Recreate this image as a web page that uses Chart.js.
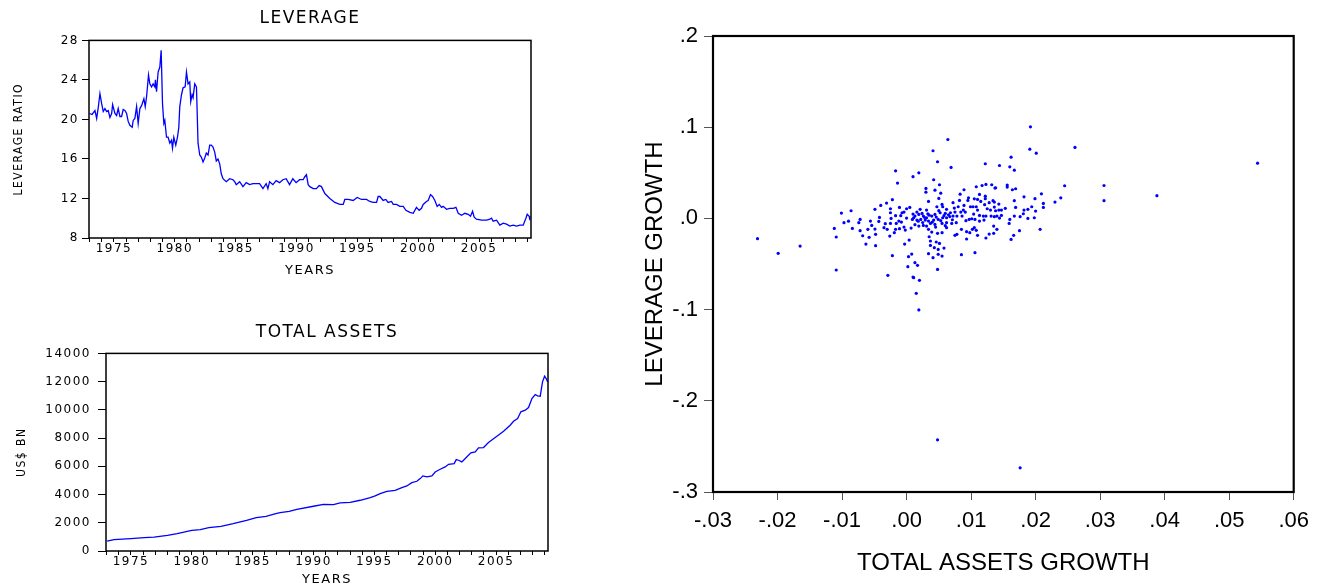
<!DOCTYPE html>
<html>
<head>
<meta charset="utf-8">
<script src="https://cdn.jsdelivr.net/npm/chart.js@4.4.1/dist/chart.umd.min.js"></script>
<style>
  html, body { margin: 0; padding: 0; background: #fff; overflow: hidden; }
  canvas { position: absolute; }
  #levChart { left: 0; top: 0; }
  #assetChart { left: 0; top: 292px; }
  #scatChart { left: 600px; top: 0; }
</style>
</head>
<body>
<canvas id="levChart" width="600" height="292"></canvas>
<canvas id="assetChart" width="600" height="300"></canvas>
<canvas id="scatChart" width="717" height="584"></canvas>
<script>
// leverage ratio (decimal years)
const levYears = [
  1973.00, 1973.20, 1973.44, 1973.58, 1973.72, 1973.85, 1973.99, 1974.12, 1974.26, 1974.40,
  1974.53, 1974.67, 1974.81, 1974.89, 1975.08, 1975.22, 1975.35, 1975.49, 1975.63, 1975.76,
  1975.90, 1976.04, 1976.17, 1976.31, 1976.50, 1976.58, 1976.72, 1976.86, 1976.99, 1977.13,
  1977.27, 1977.46, 1977.57, 1977.68, 1977.84, 1977.95, 1978.09, 1978.22, 1978.36, 1978.41,
  1978.50, 1978.63, 1978.77, 1978.88, 1978.99, 1979.10, 1979.18, 1979.32, 1979.45, 1979.59,
  1979.73, 1979.81, 1979.92, 1980.08, 1980.22, 1980.33, 1980.41, 1980.55, 1980.68, 1980.85,
  1980.96, 1981.09, 1981.23, 1981.31, 1981.42, 1981.50, 1981.64, 1981.78, 1981.91, 1982.05,
  1982.18, 1982.32, 1982.46, 1982.59, 1982.73, 1982.87, 1983.00, 1983.14, 1983.28, 1983.41,
  1983.55, 1983.69, 1983.82, 1983.96, 1984.23, 1984.51, 1984.78, 1984.92, 1985.05, 1985.33,
  1985.60, 1985.87, 1986.15, 1986.42, 1986.69, 1986.97, 1987.24, 1987.51, 1987.65, 1987.79,
  1988.06, 1988.33, 1988.61, 1988.88, 1989.15, 1989.43, 1989.70, 1989.97, 1990.25, 1990.55,
  1990.68, 1990.82, 1990.96, 1991.10, 1991.37, 1991.64, 1991.86, 1992.05, 1992.33, 1992.74,
  1993.15, 1993.56, 1993.84, 1993.97, 1994.25, 1994.66, 1994.99, 1995.34, 1995.75, 1996.03,
  1996.30, 1996.58, 1996.71, 1996.85, 1997.12, 1997.34, 1997.53, 1997.81, 1997.95, 1998.22,
  1998.49, 1998.77, 1998.99, 1999.32, 1999.59, 1999.86, 2000.08, 2000.27, 2000.41, 2000.68,
  2000.82, 2001.01, 2001.18, 2001.37, 2001.56, 2001.73, 2001.92, 2002.05, 2002.33, 2002.60,
  2002.88, 2003.10, 2003.29, 2003.56, 2003.84, 2004.11, 2004.30, 2004.47, 2004.60, 2004.79,
  2005.21, 2005.62, 2005.89, 2006.03, 2006.16, 2006.44, 2006.71, 2006.99, 2007.26, 2007.53,
  2007.81, 2008.08, 2008.36, 2008.63, 2008.85, 2008.96, 2009.12, 2009.18
];
const levRatio = [
  20.6, 20.5, 20.9, 20.1, 21.3, 22.6, 21.6, 20.8, 21.1, 20.8,
  20.9, 20.2, 20.6, 21.5, 20.6, 20.4, 21.1, 20.3, 20.3, 21.0,
  20.9, 20.6, 19.8, 19.4, 19.2, 19.9, 20.1, 21.3, 19.6, 21.1,
  21.4, 22.1, 21.3, 22.3, 24.5, 23.6, 23.3, 23.6, 23.3, 24.0,
  22.8, 24.8, 25.3, 27.0, 21.6, 19.6, 19.9, 18.2, 18.2, 17.6,
  17.9, 17.1, 18.2, 17.4, 18.2, 19.2, 21.3, 22.5, 23.2, 23.3,
  24.8, 23.6, 23.8, 21.8, 22.5, 22.2, 23.6, 23.3, 17.6, 16.4,
  16.2, 15.7, 16.1, 16.6, 16.4, 17.4, 17.4, 17.2, 16.7, 15.8,
  16.0, 15.5, 14.5, 14.0, 13.7, 14.0, 13.9, 13.7, 13.4, 13.7,
  13.2, 13.6, 13.4, 13.5, 13.5, 13.5, 13.0, 13.5, 13.0, 13.7,
  13.4, 13.8, 13.6, 13.9, 14.0, 13.4, 14.0, 13.6, 13.9, 13.9,
  14.2, 14.4, 13.4, 13.2, 13.0, 13.0, 13.3, 13.2, 12.5, 12.0,
  11.6, 11.4, 11.4, 11.9, 11.9, 11.8, 12.1, 11.9, 11.9, 11.7,
  11.6, 11.6, 12.2, 12.2, 11.8, 11.9, 11.6, 11.7, 11.4, 11.4,
  11.2, 11.2, 10.8, 10.6, 10.5, 11.1, 10.8, 11.0, 11.4, 11.7,
  11.8, 12.4, 12.2, 11.8, 11.2, 11.4, 11.1, 11.2, 10.9, 11.0,
  11.0, 11.1, 10.5, 10.3, 10.5, 10.4, 10.2, 10.7, 10.1, 9.9,
  9.8, 9.8, 9.9, 10.0, 9.7, 9.8, 9.3, 9.5, 9.4, 9.2,
  9.3, 9.2, 9.3, 9.3, 10.0, 10.4, 10.2, 9.8
];

// total assets, US$ bn
const assetYears = [
  1973.04, 1973.60, 1975.00, 1976.10, 1976.90, 1978.00, 1978.80, 1980.00, 1980.70, 1981.40,
  1982.40, 1983.40, 1984.50, 1985.30, 1986.10, 1986.90, 1987.26, 1988.00, 1988.63, 1990.00,
  1990.82, 1991.64, 1992.19, 1993.01, 1993.84, 1994.66, 1995.07, 1995.48, 1996.03, 1996.71,
  1997.26, 1997.67, 1998.08, 1998.49, 1998.77, 1998.99, 1999.32, 1999.73, 2000.00, 2000.41,
  2000.82, 2001.10, 2001.56, 2001.73, 2001.92, 2002.19, 2002.47, 2002.93, 2003.29, 2003.56,
  2003.97, 2004.38, 2005.07, 2005.62, 2006.16, 2006.44, 2006.77, 2007.04, 2007.40, 2007.67,
  2007.95, 2008.22, 2008.41, 2008.63, 2008.82, 2008.99, 2009.12, 2009.23
];
const assetValues = [
  700, 800, 875, 945, 990, 1110, 1230, 1465, 1510, 1655,
  1750, 1940, 2175, 2365, 2460, 2650, 2720, 2815, 2955, 3170,
  3310, 3285, 3405, 3450, 3595, 3780, 3900, 4065, 4230, 4300,
  4490, 4610, 4845, 4940, 5130, 5320, 5250, 5320, 5600, 5790,
  5955, 6145, 6195, 6475, 6430, 6310, 6550, 6950, 7020, 7305,
  7330, 7685, 8130, 8485, 8910, 9195, 9385, 9860, 9975, 10165,
  10805, 11085, 10990, 10970, 11985, 12385, 12220, 11985
];

// growth rates for the scatter
const assetsGrowth = [
  -0.0231, -0.0199, -0.0165, 0.0048, 0.0176, -0.0017, 0.0010, -0.0014, -0.0022, -0.0031,
  -0.0040, -0.0025, -0.0011, 0.0000, 0.0005, -0.0049, -0.0086, -0.0101, -0.0004, -0.0017,
  -0.0009, 0.0000, 0.0010, 0.0009, -0.0024, -0.0042, -0.0043, -0.0056, -0.0072, -0.0074,
  -0.0097, -0.0112, -0.0109, -0.0084, -0.0072, -0.0068, -0.0060, -0.0058, -0.0054, -0.0049,
  -0.0048, -0.0063, -0.0048, -0.0035, -0.0030, -0.0033, -0.0025, -0.0019, -0.0026, -0.0017,
  -0.0016, -0.0008, -0.0011, -0.0004, -0.0002, 0.0007, -0.0003, 0.0004, -0.0022, 0.0008,
  0.0003, 0.0002, -0.0029, 0.0010, -0.0109, -0.0012, -0.0007, -0.0025, -0.0090, 0.0064,
  0.0041, 0.0048, 0.0069, 0.0019, 0.0042, 0.0051, 0.0030, 0.0044, 0.0053, 0.0030,
  0.0050, 0.0034, 0.0055, 0.0072, 0.0074, 0.0062, 0.0056, 0.0047, 0.0031, 0.0021,
  0.0016, 0.0024, 0.0019, 0.0013, 0.0026, 0.0031, 0.0039, 0.0044, 0.0052, 0.0060,
  0.0068, 0.0075, 0.0078, 0.0072, 0.0062, 0.0056, 0.0049, 0.0042, 0.0034, 0.0029,
  0.0022, 0.0016, 0.0011, 0.0037, 0.0044, 0.0055, 0.0062, 0.0070, 0.0077, 0.0031,
  0.0026, 0.0019, 0.0013, 0.0034, 0.0039, 0.0048, 0.0055, 0.0062, 0.0075, 0.0078,
  0.0035, 0.0037, 0.0037, 0.0046, 0.0051, 0.0043, 0.0049, 0.0058, 0.0034, 0.0041,
  0.0049, 0.0055, 0.0013, 0.0017, 0.0048, 0.0020, 0.0015, 0.0019, 0.0011, 0.0028,
  0.0035, 0.0046, 0.0058, 0.0065, 0.0040, 0.0025, 0.0050, 0.0067, 0.0018, 0.0033,
  0.0053, 0.0071, 0.0045, 0.0060, 0.0192, 0.0261, 0.0191, 0.0201, 0.0162, 0.0122,
  0.0144, 0.0160, 0.0167, 0.0544, 0.0388, 0.0306, 0.0306, 0.0245, 0.0239, 0.0230,
  0.0209, 0.0212, 0.0212, 0.0207, 0.0199, 0.0200, 0.0198, 0.0194, 0.0188, 0.0188,
  0.0182, 0.0182, 0.0181, 0.0175, 0.0176, 0.0167, 0.0169, 0.0167, 0.0166, 0.0162,
  0.0160, 0.0159, 0.0156, 0.0156, 0.0164, 0.0169, 0.0153, 0.0147, 0.0147, 0.0143,
  0.0138, 0.0137, 0.0132, 0.0123, 0.0117, 0.0108, 0.0089, 0.0122, 0.0122, 0.0113,
  0.0136, 0.0134, 0.0128, 0.0121, 0.0115, 0.0110, 0.0105, 0.0096, 0.0095, 0.0083,
  0.0082, 0.0108, 0.0103, 0.0099, 0.0089, 0.0136, 0.0143, 0.0138, 0.0130, 0.0125,
  0.0131, 0.0136, 0.0140, 0.0144, 0.0123, 0.0119, 0.0113, 0.0110, 0.0104, 0.0106,
  0.0101, 0.0113, 0.0120, 0.0091, 0.0088, 0.0084, 0.0080, 0.0086, 0.0092, 0.0097,
  0.0102, 0.0105, 0.0108, 0.0098, 0.0093, 0.0085, 0.0093, 0.0110, 0.0085, 0.0106,
  0.0123, 0.0128, 0.0135, 0.0140, 0.0135
];
const leverageGrowth = [
  -0.0222, -0.0383, -0.0303, -0.2428, -0.2735, 0.0522, 0.0457, 0.0387, 0.0205, 0.0168,
  0.0142, 0.0106, 0.0120, 0.0106, 0.0120, 0.0099, 0.0084, 0.0058, 0.0069, 0.0030,
  0.0030, 0.0004, 0.0047, -0.0011, 0.0000, 0.0011, -0.0033, -0.0029, -0.0011, -0.0047,
  -0.0047, -0.0110, -0.0204, -0.0110, -0.0135, -0.0190, -0.0120, -0.0208, -0.0077, -0.0117,
  -0.0175, -0.0281, -0.0299, -0.0102, -0.0120, -0.0058, -0.0055, -0.0157, -0.0194, -0.0120,
  -0.0055, -0.0040, -0.0113, -0.0095, -0.0128, -0.0106, -0.0281, -0.0238, -0.0409, -0.0391,
  -0.0420, -0.0529, -0.0624, -0.0643, -0.0566, -0.0029, 0.0062, 0.0062, -0.0030, 0.0865,
  0.0742, 0.0621, 0.0559, 0.0500, 0.0424, 0.0369, 0.0329, 0.0310, 0.0277, 0.0288,
  0.0219, 0.0186, 0.0153, 0.0172, 0.0113, 0.0099, 0.0128, 0.0128, 0.0091, 0.0099,
  0.0069, 0.0055, 0.0044, 0.0026, 0.0026, 0.0007, 0.0026, 0.0044, 0.0062, 0.0055,
  0.0062, 0.0069, 0.0026, 0.0026, 0.0007, 0.0007, -0.0011, -0.0018, -0.0029, -0.0018,
  -0.0011, -0.0018, 0.0007, -0.0055, -0.0066, -0.0055, -0.0047, -0.0055, -0.0047, -0.0084,
  -0.0077, -0.0084, -0.0069, -0.0120, -0.0150, -0.0164, -0.0157, -0.0102, -0.0186, -0.0175,
  -0.0201, -0.0248, -0.0296, -0.0259, -0.0274, -0.0321, -0.0340, -0.0325, -0.0387, -0.0431,
  -0.0394, -0.0413, -0.0485, -0.0515, -0.0559, -0.0679, -0.0821, -0.1004, -0.0650, 0.0010,
  0.0035, 0.0015, 0.0030, 0.0040, -0.0040, -0.0045, 0.0085, 0.0020, -0.0030, 0.0050,
  -0.0025, -0.0015, -0.0095, -0.0080, 0.1004, 0.0778, 0.0759, 0.0715, 0.0671, 0.0599,
  0.0580, 0.0566, 0.0529, 0.0606, 0.0249, 0.0361, 0.0194, 0.0358, 0.0226, 0.0179,
  0.0270, 0.0164, 0.0120, -0.0120, 0.0216, 0.0080, 0.0007, 0.0128, 0.0099, 0.0000,
  0.0237, 0.0091, 0.0051, -0.0135, 0.0019, 0.0194, 0.0120, 0.0026, -0.0186, -0.0230,
  -0.0011, -0.0055, 0.0365, 0.0343, 0.0314, 0.0325, 0.0110, 0.0091, 0.0033, 0.0157,
  0.0336, 0.0332, 0.0369, 0.0372, 0.0361, 0.0347, 0.0314, 0.0244, 0.0216, 0.0263,
  0.0179, 0.0194, 0.0172, 0.0150, 0.0186, 0.0208, 0.0215, 0.0226, 0.0197, 0.0266,
  0.0197, 0.0128, 0.0128, 0.0128, 0.0142, 0.0124, 0.0091, 0.0084, 0.0091, 0.0106,
  0.0026, 0.0019, 0.0026, 0.0004, 0.0026, 0.0026, 0.0033, 0.0091, 0.0047, -0.0011,
  -0.0004, -0.0029, -0.0018, 0.0069, 0.0091, 0.0069, 0.0128, 0.0026, -0.0025, -0.0011,
  -0.0120, -0.0102, -0.0131, -0.0157, -0.0146, -0.0120, -0.0226, -0.0186, -0.0398, -0.0376,
  -0.0215, -0.0172, -0.0164, -0.0120, -0.0084
];

const BLUE = '#0000ff';
const wideFont = (size) => ({ family: "'DejaVu Sans', sans-serif", size: size, weight: 'normal' });
const narrowFont = (size) => ({ family: "'Liberation Sans Narrow', 'DejaVu Sans Condensed', sans-serif", size: size, weight: 'normal' });
const arial = (size) => ({ family: "'Liberation Sans', Arial, sans-serif", size: size, weight: 'normal' });

// box round the plot area
const frame = {
  id: 'frame',
  afterDraw(chart, args, opts) {
    const a = chart.chartArea;
    const ctx = chart.ctx;
    ctx.save();
    ctx.strokeStyle = '#000';
    ctx.lineWidth = opts.width;
    ctx.strokeRect(a.left, a.top, a.right - a.left, a.bottom - a.top);
    ctx.restore();
  }
};

// the small panels use stretched lettering
const spacing = {
  id: 'spacing',
  beforeUpdate(chart, args, opts) { chart.ctx.letterSpacing = opts.value; },
  beforeDraw(chart, args, opts) { chart.ctx.letterSpacing = opts.value; }
};

function fixWidth(w) { return (scale) => { scale.width = w; }; }
function fixHeight(h) { return (scale) => { scale.height = h; }; }

function yearAxis(height, titlePad) {
  return {
    type: 'linear',
    min: 1972.95,
    max: 2009.27,
    afterFit: fixHeight(height),
    border: { display: false },
    grid: { drawOnChartArea: false, tickLength: 4, tickColor: '#000' },
    ticks: {
      stepSize: 1, autoSkip: false, maxRotation: 0, includeBounds: false, padding: 0,
      color: '#000', font: wideFont(12),
      callback: (v) => (Math.round(v) % 5 === 0 ? String(Math.round(v)) : '')
    },
    title: { display: true, text: 'YEARS', color: '#000', font: wideFont(13), padding: { top: 0, bottom: titlePad } }
  };
}

function panel(id, cfg) {
  return new Chart(document.getElementById(id), {
    type: 'line',
    data: {
      datasets: [{
        data: cfg.xs.map((x, i) => ({ x: x, y: cfg.ys[i] })),
        borderColor: BLUE,
        borderWidth: 1.3,
        pointRadius: 0,
        tension: 0
      }]
    },
    options: {
      responsive: false,
      animation: false,
      layout: { padding: { left: 0, right: cfg.right, top: 0, bottom: 0 } },
      plugins: {
        legend: { display: false },
        tooltip: { enabled: false },
        title: {
          display: true, text: cfg.title, fullSize: false, color: '#000',
          font: wideFont(17), padding: cfg.titlePad
        },
        frame: { width: 1.5 },
        spacing: { value: '1.5px' }
      },
      scales: {
        x: yearAxis(cfg.xHeight, cfg.yearsPad),
        y: {
          min: cfg.yMin, max: cfg.yMax,
          afterFit: fixWidth(cfg.yWidth),
          border: { display: false },
          grid: { drawOnChartArea: false, tickLength: cfg.tick, tickColor: '#000' },
          ticks: { stepSize: cfg.yStep, padding: cfg.tickPad, color: '#000', font: wideFont(12), callback: (v) => String(v) },
          title: { display: true, text: cfg.yTitle, color: '#000', font: narrowFont(12), padding: { top: cfg.yTitlePad, bottom: 0 } }
        }
      }
    },
    plugins: [frame, spacing]
  });
}

panel('levChart', {
  xs: levYears, ys: levRatio, title: 'LEVERAGE', titlePad: { top: 8, bottom: 12 },
  right: 69, xHeight: 54, yearsPad: 14, yMin: 8, yMax: 28, yStep: 4, yWidth: 89,
  tick: 7, tickPad: 3, yTitle: 'LEVERAGE RATIO', yTitlePad: 12
});

panel('assetChart', {
  xs: assetYears, ys: assetValues, title: 'TOTAL ASSETS', titlePad: { top: 30, bottom: 11 },
  right: 52, xHeight: 41, yearsPad: 5, yMin: 0, yMax: 14000, yStep: 2000, yWidth: 106,
  tick: 8, tickPad: 7, yTitle: 'US$ BN', yTitlePad: 15
});

const dec = (v, n) => v.toFixed(n).replace(/^(-?)0\./, '$1.');

new Chart(document.getElementById('scatChart'), {
  type: 'scatter',
  data: {
    datasets: [{
      data: assetsGrowth.map((x, i) => ({ x: x, y: leverageGrowth[i] })),
      backgroundColor: BLUE,
      borderWidth: 0,
      pointRadius: 1.6
    }]
  },
  options: {
    responsive: false,
    animation: false,
    layout: { padding: { left: 0, right: 18, top: 36, bottom: 0 } },
    plugins: {
      legend: { display: false },
      tooltip: { enabled: false },
      frame: { width: 2.2 }
    },
    scales: {
      x: {
        type: 'linear', min: -0.03, max: 0.06,
        afterFit: fixHeight(92),
        border: { display: false },
        grid: { drawOnChartArea: false, tickLength: 8, tickColor: '#555' },
        ticks: { stepSize: 0.01, autoSkip: false, maxRotation: 0, padding: 8, color: '#000', font: arial(22), callback: (v) => dec(v, 2) },
        title: { display: true, text: 'TOTAL ASSETS GROWTH', color: '#000', font: arial(24), padding: { top: 0, bottom: 6 } }
      },
      y: {
        min: -0.3, max: 0.2,
        afterFit: fixWidth(113),
        border: { display: false },
        grid: { drawOnChartArea: false, tickLength: 9, tickColor: '#555' },
        ticks: { stepSize: 0.1, padding: 6, color: '#000', font: arial(22), callback: (v) => dec(v, 1) },
        title: { display: true, text: 'LEVERAGE GROWTH', color: '#000', font: arial(24), padding: { top: 41, bottom: 0 } }
      }
    }
  },
  plugins: [frame]
});
</script>
</body>
</html>
